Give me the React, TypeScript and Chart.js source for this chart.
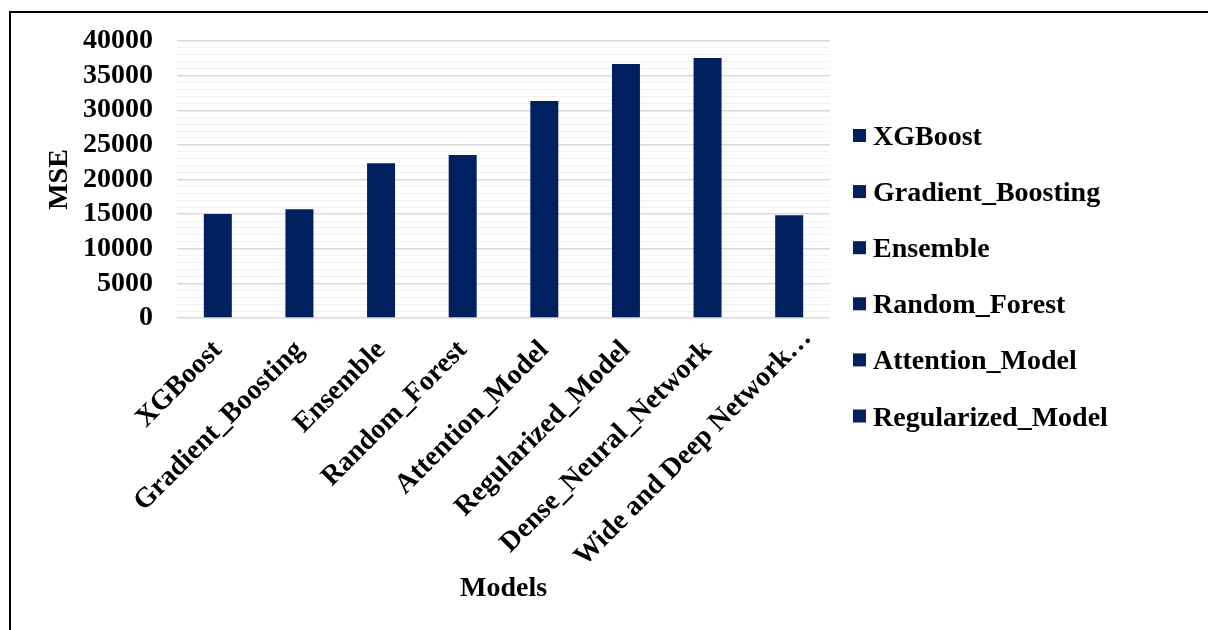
import React, { useEffect, useRef } from "react";
import { Chart, registerables } from "chart.js";

Chart.register(...registerables);

// Model names along the category axis
const models = [
  "XGBoost",
  "Gradient_Boosting",
  "Ensemble",
  "Random_Forest",
  "Attention_Model",
  "Regularized_Model",
  "Dense_Neural_Network",
  "Wide and Deep Network…",
];

// Mean squared error per model
const mse = [15030, 15710, 22360, 23520, 31330, 36680, 37540, 14850];

// Entries listed in the legend column
const legendEntries = models.slice(0, 6);

// Labelled value-axis ticks (minor gridlines every 1000 in between)
const yTickLabels = ["0", "5000", "10000", "15000", "20000", "25000", "30000", "35000", "40000"];

const BAR_COLOR = "#002060";
const FONT_FAMILY = '"Times New Roman", "Liberation Serif", serif';
const FONT_SIZE = 28;
const FONT = { family: FONT_FAMILY, size: FONT_SIZE, weight: "bold" as const };

// Legend column drawn to the right of the plot area
const sideLegend = {
  id: "sideLegend",
  afterDraw(chart: Chart) {
    const { ctx, chartArea } = chart;
    const boxX = chartArea.right + 23;
    const textX = boxX + 20;
    const firstBaseline = 145;
    const step = 56.1;
    ctx.save();
    ctx.font = `bold ${FONT_SIZE}px ${FONT_FAMILY}`;
    ctx.textAlign = "left";
    ctx.textBaseline = "alphabetic";
    legendEntries.forEach((label, i) => {
      const base = firstBaseline + i * step;
      ctx.fillStyle = BAR_COLOR;
      ctx.fillRect(boxX, base - 16, 13, 13);
      ctx.fillStyle = "#000";
      ctx.fillText(label, textX, base);
    });
    ctx.restore();
  },
};

// The truncated last category label sits a little further along its slant
const lastLabelNudge = {
  id: "lastLabelNudge",
  beforeDraw(chart: Chart) {
    const scale: any = chart.scales.x;
    const items = scale.getLabelItems();
    const last = items[items.length - 1];
    if (last && !last._nudged) {
      last.options.translation = [last.options.translation[0] + 18, last.options.translation[1] - 12];
      last._nudged = true;
    }
  },
};

export default function App() {
  const canvasRef = useRef<HTMLCanvasElement | null>(null);

  useEffect(() => {
    if (!canvasRef.current) return;
    const chart = new Chart(canvasRef.current, {
      type: "bar",
      data: {
        labels: models,
        datasets: [
          {
            label: "MSE",
            data: mse,
            backgroundColor: BAR_COLOR,
            borderWidth: 0,
            categoryPercentage: 0.343,
            barPercentage: 1,
          },
        ],
      },
      options: {
        animation: false,
        responsive: false,
        maintainAspectRatio: false,
        layout: { padding: { top: 41, left: 40, right: 378, bottom: 20 } },
        plugins: {
          legend: { display: false },
          tooltip: { enabled: false },
        },
        scales: {
          x: {
            grid: { display: false },
            border: { display: false },
            ticks: {
              color: "#000",
              font: FONT,
              maxRotation: 45,
              minRotation: 45,
              autoSkip: false,
              padding: 8,
            },
            title: {
              display: true,
              text: "Models",
              color: "#000",
              font: FONT,
              padding: { top: 0, bottom: 4 },
            },
            afterFit(scale: any) {
              scale.height = 292;
            },
          },
          y: {
            min: 0,
            max: 40000,
            border: { display: false },
            grid: {
              drawTicks: false,
              color: (ctx: any) => (ctx.tick && ctx.tick.value % 5000 === 0 ? "#d9d9d9" : "#f0f0f0"),
              lineWidth: (ctx: any) => (ctx.tick && ctx.tick.value % 5000 === 0 ? 1.5 : 1),
            },
            ticks: {
              stepSize: 1000,
              autoSkip: false,
              color: "#000",
              font: FONT,
              padding: 24,
              callback: (value: any) =>
                Number(value) % 5000 === 0 ? yTickLabels[Number(value) / 5000] : "",
            },
            title: {
              display: true,
              text: "MSE",
              color: "#000",
              font: FONT,
              padding: { top: 3, bottom: 0 },
            },
            afterFit(scale: any) {
              scale.width = 137;
            },
          },
        },
      },
      plugins: [lastLabelNudge, sideLegend],
    });
    return () => chart.destroy();
  }, []);

  return (
    <div style={{ position: "fixed", left: 0, top: 0, width: 1208, height: 630, background: "#fff", overflow: "hidden" }}>
      <div
        style={{
          position: "absolute",
          left: 9,
          top: 11,
          width: 1300,
          height: 700,
          borderLeft: "2px solid #000",
          borderTop: "2px solid #000",
        }}
      />
      <canvas
        ref={canvasRef}
        width={1208}
        height={630}
        style={{ position: "absolute", left: 0, top: 0, width: 1208, height: 630 }}
      />
    </div>
  );
}
